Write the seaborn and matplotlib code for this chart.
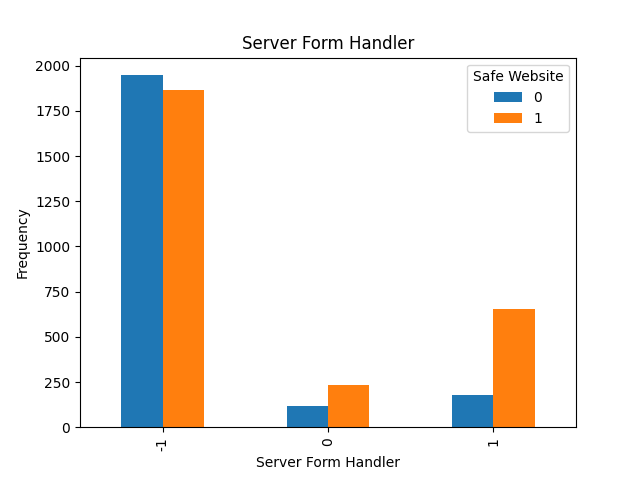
import pandas as pd
import matplotlib
matplotlib.use("Agg")
import matplotlib.pyplot as plt
import seaborn as sns

# valeurs
handler_values = ["-1", "0", "1"]
safe_labels = ["0", "1"]
counts_safe_0 = [1947, 116, 177]
counts_safe_1 = [1864, 232, 653]

df = pd.DataFrame({
    "Server Form Handler": handler_values * 2,
    "Safe Website": [safe_labels[0]] * 3 + [safe_labels[1]] * 3,
    "Frequency": counts_safe_0 + counts_safe_1,
})

fig, ax = plt.subplots(figsize=(6.4, 4.8), dpi=100)
sns.barplot(data=df, x="Server Form Handler", y="Frequency", hue="Safe Website",
            order=handler_values, hue_order=safe_labels,
            palette=["#1f77b4", "#ff7f0e"], width=0.5, gap=0,
            saturation=1, errorbar=None, ax=ax)
ax.set_title("Server Form Handler")
ax.set_xlabel("Server Form Handler")
ax.set_ylabel("Frequency")
ax.tick_params(axis="x", labelrotation=90)
ax.legend(title="Safe Website", loc="upper right")

fig.savefig("out.png", dpi=100)
